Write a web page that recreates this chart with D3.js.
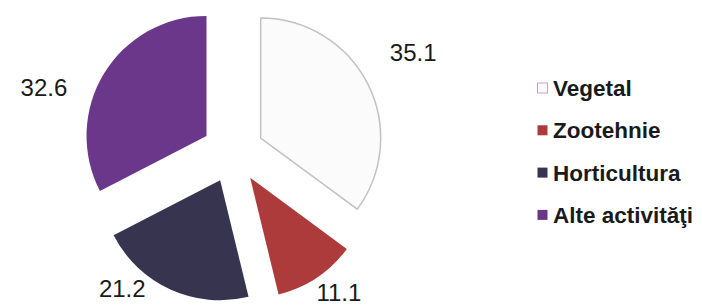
<!DOCTYPE html>
<html>
<head>
<meta charset="utf-8">
<script src="https://cdn.jsdelivr.net/npm/d3@7"></script>
<style>
  body { margin: 0; background: #fff; }
  svg { display: block; }
</style>
</head>
<body>
<svg class="svg-canvas" width="702" height="306"></svg>
<script>
var categories = ["Vegetal", "Zootehnie", "Horticultura", "Alte activităţi"];
var values = [35.1, 11.1, 21.2, 32.6];
var colors = ["#fbfbfb", "#ae3b3b", "#36344f", "#6b378a"];
var strokes = ["#c4c0c4", "none", "none", "none"];
var legendStrokes = ["#c9a3cf", "none", "none", "none"];

// where Excel dropped each value label: angle (deg, clockwise from top) and distance from centre
var labelPolar = [[61, 206], [143, 176], [219, 176], [289, 200]];

var svg = d3.select(".svg-canvas");
var cx = 233, cy = 152;
var radius = 120;
var explode = 31;

var pie = d3.pie().sort(null).value(function(d) { return d; });
var arcs = pie(values);
var arc = d3.arc().innerRadius(0).outerRadius(radius);

var g = svg.append("g").attr("transform", "translate(" + cx + "," + cy + ")");

g.selectAll("path")
  .data(arcs).enter()
  .append("path")
  .attr("d", arc)
  .attr("transform", function(d) {
    var mid = (d.startAngle + d.endAngle) / 2;
    return "translate(" + (Math.sin(mid) * explode) + "," + (-Math.cos(mid) * explode) + ")";
  })
  .attr("fill", function(d, i) { return colors[i]; })
  .attr("stroke", function(d, i) { return strokes[i]; })
  .attr("stroke-width", 1.5);

g.selectAll("text.val")
  .data(arcs).enter()
  .append("text")
  .attr("class", "val")
  .attr("x", function(d, i) { return Math.sin(labelPolar[i][0] * Math.PI / 180) * labelPolar[i][1]; })
  .attr("y", function(d, i) { return -Math.cos(labelPolar[i][0] * Math.PI / 180) * labelPolar[i][1]; })
  .attr("dy", "0.36em")
  .attr("text-anchor", "middle")
  .style("font-family", "Liberation Sans, Arial, sans-serif")
  .style("font-size", "24px")
  .style("fill", "#1a1a1a")
  .text(function(d) { return d.data.toFixed(1); });

var legend = svg.append("g").attr("transform", "translate(537,88)");
var rows = legend.selectAll("g")
  .data(categories).enter()
  .append("g")
  .attr("transform", function(d, i) { return "translate(0," + (i * 42.3) + ")"; });

rows.append("rect")
  .attr("x", 0.5)
  .attr("y", -5)
  .attr("width", 10)
  .attr("height", 10)
  .attr("fill", function(d, i) { return colors[i]; })
  .attr("stroke", function(d, i) { return legendStrokes[i]; });

rows.append("text")
  .attr("x", 16)
  .attr("dy", "0.36em")
  .style("font-family", "Liberation Sans, Arial, sans-serif")
  .style("font-size", "22.5px")
  .style("font-weight", "bold")
  .style("fill", "#1a1a1a")
  .text(function(d) { return d; });
</script>
</body>
</html>
